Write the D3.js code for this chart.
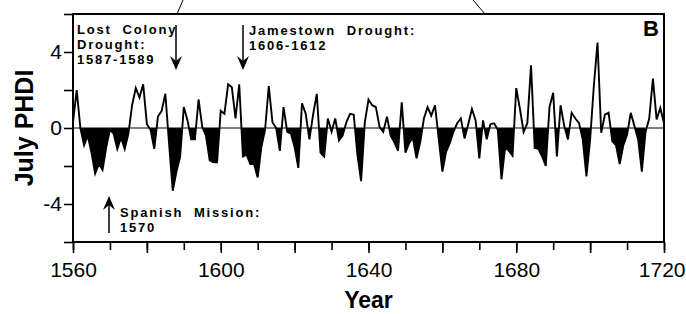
<!DOCTYPE html>
<html>
<head>
<meta charset="utf-8">
<script src="https://cdn.jsdelivr.net/npm/d3@7"></script>
<style>
  body { margin: 0; background: #fff; }
  svg { display: block; font-family: "Liberation Sans", Arial, Helvetica, sans-serif; }
  .note { font-size: 13px; font-weight: bold; letter-spacing: 1.8px; white-space: pre; }
</style>
</head>
<body>
<svg id="chart" width="686" height="314"></svg>
<script>
// July PHDI reconstruction, one value per year from startYear
const startYear = 1560;
const phdi = [
  0.3, 2.0, 0.0, -0.9, -0.4, -1.3, -2.4, -1.9, -2.2, -1.0,      // 1560s
  -0.1, -0.3, -1.1, -0.5, -1.1, -0.3, 1.2, 2.1, 1.6, 2.3,       // 1570s
  0.2, -0.1, -1.1, 0.6, 0.9, 1.8, -0.8, -3.3, -2.3, -1.5,       // 1580s
  1.1, 0.4, -0.6, -0.6, 1.5, 0.05, -0.4, -1.7, -1.8, -1.8,      // 1590s
  0.9, 0.75, 2.3, 2.15, 0.5, 2.3, -1.5, -1.4, -1.9, -1.9,       // 1600s
  -2.6, -1.0, -0.1, 2.2, 0.3, 0.0, -1.2, 1.1, -0.2, -0.3,       // 1610s
  -1.0, -2.1, 1.3, 0.75, -0.6, 0.7, 1.8, -1.3, -1.5, 0.5,       // 1620s
  -0.2, 0.5, -0.65, -0.4, 0.3, 0.75, 0.7, -1.4, -2.8, 0.3,      // 1630s
  1.5, 1.2, 1.1, 0.05, -0.2, 0.6, -0.4, -0.75, -1.2, 1.35,      // 1640s
  -1.3, -0.8, -0.5, -1.6, -0.75, 0.5, 1.1, 0.65, 1.2, -0.55,    // 1650s
  -2.3, -1.25, -0.8, -0.2, 0.25, 0.5, -0.55, 0.2, 1.0, 0.4,     // 1660s
  -1.6, 0.4, -0.6, 0.2, 0.25, -0.1, -2.7, -1.0, -1.2, -1.45,    // 1670s
  2.1, 1.0, -0.2, 0.25, 3.3, -1.05, -1.1, -1.5, -2.0, 1.1,      // 1680s
  1.85, -1.5, 1.2, 0.1, -0.6, 0.8, 0.5, 0.25, -0.6, -2.55,      // 1690s
  -0.6, 2.2, 4.5, -0.25, 0.7, 0.8, -0.7, -0.9, -1.9, -0.9,      // 1700s
  -0.35, 0.8, 0.1, -0.6, -2.3, -0.2, 0.5, 2.6, 0.45, 1.05,      // 1710s
  0.25                                                          // 1720
];

const xDomain = [1560, 1720];
const yDomain = [-6, 6];
const tickYears = [1560, 1570, 1580, 1590, 1600, 1610, 1620, 1630, 1640, 1650, 1660,
                   1670, 1680, 1690, 1700, 1710, 1720];
const majorTickYears = [1560, 1580, 1600, 1620, 1640, 1660, 1680, 1700, 1720];
const labelYears = [1560, 1600, 1640, 1680, 1720];
const yTicks = [-6, -4, -2, 0, 2, 4, 6];
const yLabels = [-4, 0, 4];

// annotations: text lines, text pos, arrow x, arrow from/to (pixels)
const notes = [
  {lines: ['Lost  Colony', 'Drought:', '1587-1589'], tx: 77, ty: 34, ax: 176, a0: 25, a1: 70},
  {lines: ['Jamestown  Drought:', '1606-1612'], tx: 249, ty: 35, ax: 243, a0: 25, a1: 70},
  {lines: ['Spanish  Mission:', '1570'], tx: 120, ty: 217, ax: 109, a0: 233, a1: 196}
];

const margin = {top: 14, right: 22, bottom: 72, left: 73};
const width = 686, height = 314;
const svg = d3.select('#chart');

const x = d3.scaleLinear().domain(xDomain).range([margin.left, width - margin.right]);
const y = d3.scaleLinear().domain(yDomain).range([height - margin.bottom, margin.top]);

const series = phdi.map((v, i) => ({year: startYear + i, v: v}));

// negative fill, clipped below the zero line
svg.append('clipPath').attr('id', 'below')
  .append('rect')
  .attr('x', x(xDomain[0])).attr('y', y(0))
  .attr('width', x(xDomain[1]) - x(xDomain[0]))
  .attr('height', y(yDomain[0]) - y(0));

svg.append('path')
  .datum(series)
  .attr('clip-path', 'url(#below)')
  .attr('fill', '#000')
  .attr('d', d3.area().x(d => x(d.year)).y0(y(0)).y1(d => y(d.v)));

// zero line
svg.append('line')
  .attr('x1', x(xDomain[0])).attr('x2', x(xDomain[1]))
  .attr('y1', y(0)).attr('y2', y(0))
  .attr('stroke', '#000').attr('stroke-width', 1);

svg.append('path')
  .datum(series)
  .attr('fill', 'none')
  .attr('stroke', '#000')
  .attr('stroke-width', 1.9)
  .attr('stroke-linejoin', 'miter')
  .attr('d', d3.line().x(d => x(d.year)).y(d => y(d.v)));

// frame
svg.append('rect')
  .attr('x', x(xDomain[0])).attr('y', y(yDomain[1]))
  .attr('width', x(xDomain[1]) - x(xDomain[0]))
  .attr('height', y(yDomain[0]) - y(yDomain[1]))
  .attr('fill', 'none').attr('stroke', '#000').attr('stroke-width', 2);

// axes
const axisY = height - margin.bottom;
svg.append('g').attr('class', 'x minor')
  .attr('transform', 'translate(0,' + axisY + ')')
  .call(d3.axisBottom(x).tickValues(tickYears).tickSize(8).tickFormat(''));
svg.append('g').attr('class', 'x major')
  .attr('transform', 'translate(0,' + axisY + ')')
  .call(d3.axisBottom(x).tickValues(majorTickYears).tickSize(11).tickFormat(''));
const xLabels = svg.append('g').attr('class', 'x labels')
  .attr('transform', 'translate(0,' + axisY + ')')
  .call(d3.axisBottom(x).tickValues(labelYears).tickSize(0).tickPadding(20).tickFormat(d => String(d)));

svg.append('g').attr('class', 'y axis')
  .attr('transform', 'translate(' + margin.left + ',0)')
  .call(d3.axisLeft(y).tickValues(yTicks).tickSize(9).tickPadding(2)
    .tickFormat(d => yLabels.includes(d) ? String(d) : ''));

svg.selectAll('.domain').remove();
svg.selectAll('.tick line').attr('stroke', '#000').attr('stroke-width', 1.6);
svg.selectAll('.tick text').attr('fill', '#000').style('font-size', '21px')
  .style('font-family', '"Liberation Sans", Arial, sans-serif');

// keep the last year label inside the page edge
xLabels.selectAll('.tick text')
  .filter(d => d === xDomain[1])
  .attr('text-anchor', 'end')
  .attr('x', width - 1 - x(xDomain[1]));

// axis titles
svg.append('text')
  .attr('transform', 'translate(33,' + y(0) + ') rotate(-90)')
  .attr('text-anchor', 'middle')
  .style('font-size', '25px').style('font-weight', 'bold')
  .text('July PHDI');

svg.append('text')
  .attr('x', (x(xDomain[0]) + x(xDomain[1])) / 2).attr('y', 308)
  .attr('text-anchor', 'middle')
  .style('font-size', '23px').style('font-weight', 'bold')
  .text('Year');

svg.append('text')
  .attr('x', 659).attr('y', 36)
  .attr('text-anchor', 'end')
  .style('font-size', '22px').style('font-weight', 'bold')
  .text('B');

// leftover connector lines from panel A
svg.append('line').attr('x1', 183).attr('y1', 0).attr('x2', 177).attr('y2', 14)
  .attr('stroke', '#000').attr('stroke-width', 1);
svg.append('line').attr('x1', 473).attr('y1', 0).attr('x2', 485).attr('y2', 14)
  .attr('stroke', '#000').attr('stroke-width', 1);

// annotations
notes.forEach(n => {
  const t = svg.append('text').attr('class', 'note');
  n.lines.forEach((l, i) => {
    t.append('tspan').attr('x', n.tx).attr('y', n.ty + i * 15).text(l);
  });
  const dir = n.a1 > n.a0 ? 1 : -1;
  svg.append('line')
    .attr('x1', n.ax).attr('x2', n.ax)
    .attr('y1', n.a0).attr('y2', n.a1 - dir * 6)
    .attr('stroke', '#000').attr('stroke-width', 1.5);
  svg.append('path')
    .attr('fill', '#000')
    .attr('d', 'M' + n.ax + ',' + n.a1 +
      'L' + (n.ax - 6) + ',' + (n.a1 - dir * 14) +
      'L' + n.ax + ',' + (n.a1 - dir * 9) +
      'L' + (n.ax + 6) + ',' + (n.a1 - dir * 14) + 'Z');
});
</script>
</body>
</html>
